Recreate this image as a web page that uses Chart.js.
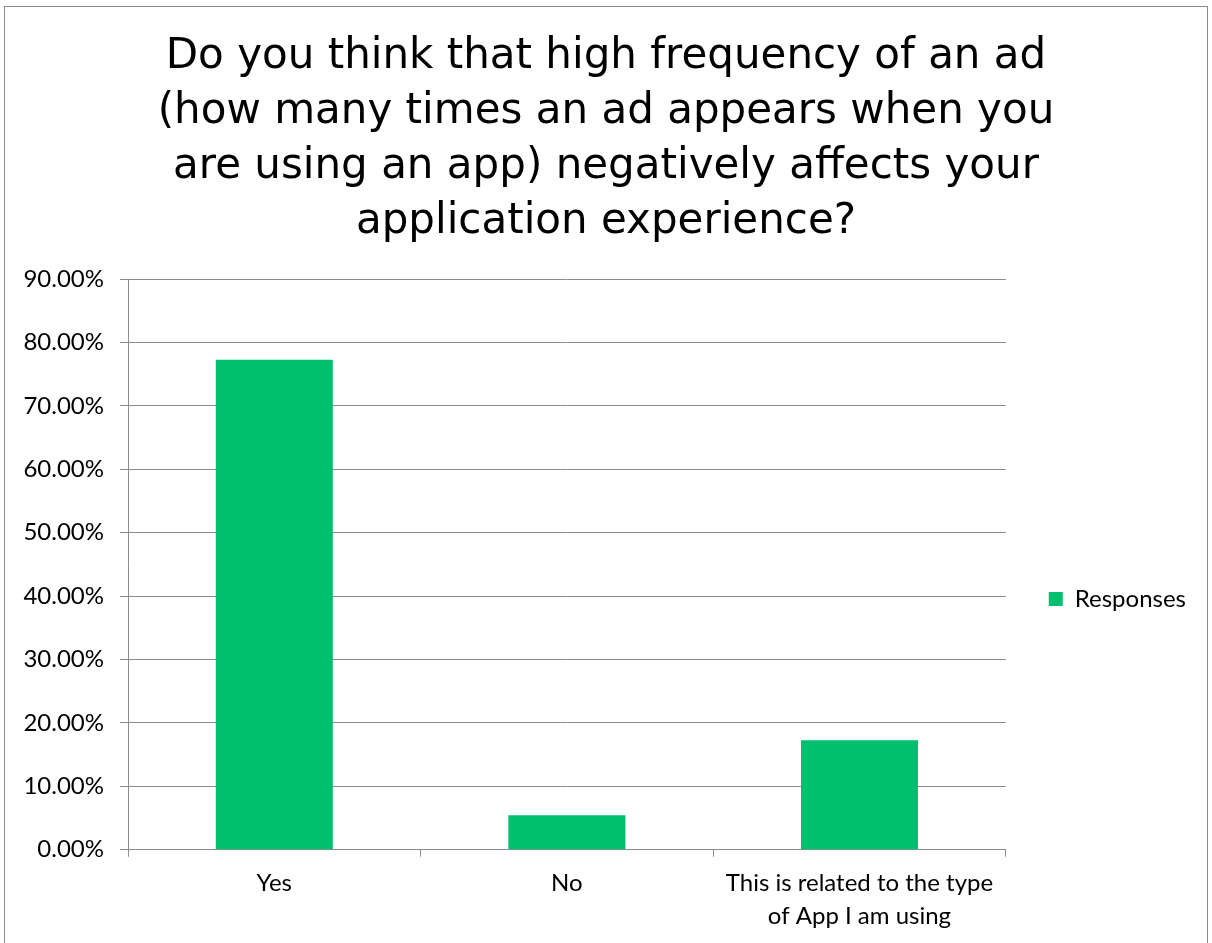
<!DOCTYPE html>
<html>
<head>
<meta charset="utf-8">
<script src="https://cdn.jsdelivr.net/npm/chart.js@4"></script>
<style>
    html, body { margin: 0; padding: 0; background: #fff; overflow: hidden; }
    .frame {
        position: absolute;
        left: 4px;
        top: 6px;
        width: 1202px;
        height: 960px;
        border: 1px solid #8c8c8c;
    }
    .frame canvas { display: block; }
</style>
</head>
<body>
<div class="frame">
    <canvas id="adChart" width="1202" height="936"></canvas>
</div>
<script>
// Survey answers and share of responses (%)
const categories = ['Yes', 'No', ['This is related to the type', 'of App I am using']];
const responses = [77.27, 5.45, 17.27];
const yTicks = [0, 10, 20, 30, 40, 50, 60, 70, 80, 90];

const titleLines = [
    'Do you think that high frequency of an ad',
    '(how many times an ad appears when you',
    'are using an app) negatively affects your',
    'application experience?'
];

const gridGray = '#8c8c8c';
const labelFont = { family: 'Lato, "Open Sans", sans-serif', size: 24 };

// move the legend item back a little and down to mid-height of the axes
const legendShift = {
    id: 'legendShift',
    afterLayout(chart) {
        const lg = chart.legend;
        if (lg) {
            lg.left -= 11;
            lg.right -= 11;
            lg.top += 124;
            lg.bottom += 124;
        }
    }
};

document.addEventListener('DOMContentLoaded', () => {
    const ctx = document.getElementById('adChart');

    new Chart(ctx, {
        type: 'bar',
        data: {
            labels: categories,
            datasets: [{
                label: 'Responses',
                data: responses,
                backgroundColor: '#00BF6F',
                borderWidth: 0,
                barPercentage: 0.4,
                categoryPercentage: 1.0
            }]
        },
        options: {
            responsive: false,
            animation: false,
            layout: { padding: 0 },
            plugins: {
                title: {
                    display: true,
                    text: titleLines,
                    color: '#000',
                    font: { family: '"DejaVu Sans", "Liberation Sans", sans-serif', size: 42, weight: 'normal', lineHeight: 1.31 },
                    padding: { top: 23, bottom: 29 }
                },
                legend: {
                    position: 'right',
                    labels: {
                        color: '#000',
                        font: labelFont,
                        boxWidth: 14,
                        boxHeight: 14,
                        padding: 54
                    }
                },
                tooltip: { enabled: false }
            },
            scales: {
                x: {
                    offset: true,
                    grid: {
                        offset: true,
                        drawOnChartArea: false,
                        drawTicks: true,
                        tickLength: 7,
                        color: gridGray
                    },
                    border: { color: gridGray, width: 1 },
                    ticks: {
                        color: '#000',
                        font: { ...labelFont, lineHeight: 1.38 },
                        padding: 10,
                        maxRotation: 0
                    }
                },
                y: {
                    min: 0,
                    max: 90,
                    afterBuildTicks: (scale) => {
                        scale.ticks = yTicks.map(v => ({ value: v }));
                    },
                    afterFit: (scale) => { scale.width = 123; },
                    grid: {
                        color: gridGray,
                        tickLength: 8
                    },
                    border: { color: gridGray, width: 1 },
                    ticks: {
                        color: '#000',
                        font: labelFont,
                        padding: 16,
                        callback: v => v.toFixed(2) + '%'
                    }
                }
            }
        },
        plugins: [legendShift]
    });
});
</script>
</body>
</html>
